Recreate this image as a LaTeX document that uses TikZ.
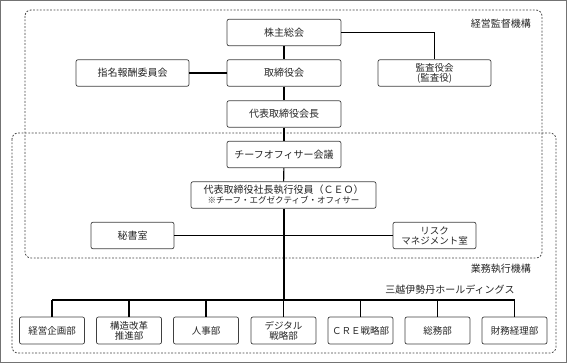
\documentclass[tikz,border=0pt]{standalone}
\usepackage{fontspec}
\newfontfamily\jp{Noto Sans CJK JP}
\begin{document}
\begin{tikzpicture}[x=1pt,y=-1pt,
  box/.style={draw=black!75,line width=0.7pt,rounded corners=2pt,fill=white,
    minimum height=26.5pt,inner sep=0pt,align=center,
    font=\jp\fontsize{10}{11.5}\selectfont,text=black!85},
  conn/.style={line width=1.1pt,black},
  region/.style={draw=black!75,line width=0.8pt,rounded corners=6pt,dash pattern=on 1.8pt off 1.6pt},
  lbl/.style={font=\jp\fontsize{10}{11.5}\selectfont,text=black!85,inner sep=0pt}]
\useasboundingbox (0,0) rectangle (567,363);
\draw[black!55,line width=1pt] (0.5,0.5) rectangle (566.5,362.5);
% regions
\draw[region] (25,10) rectangle (542,258);
\draw[region] (12,133) rectangle (556,353);
\node[lbl,anchor=east] (lab1) at (531,24) {経営監督機構};
\node[lbl,anchor=east] (lab2) at (531,269) {業務執行機構};
\node[lbl] (lab3) at (450,290) {三越伊勢丹ホールディングス};
% nodes
\node[box,minimum width=114pt] (kabu) at (284,32.5) {株主総会};
\node[box,minimum width=114pt] (tori) at (284,73) {取締役会};
\node[box,minimum width=114pt] (kaicho) at (284,114) {代表取締役会長};
\node[box,minimum width=114pt] (chief) at (284,154.5) {チーフオフィサー会議};
\node[box,minimum width=113pt] (shimei) at (132.5,73) {指名報酬委員会};
\node[box,minimum width=113pt,font=\jp\fontsize{9.5}{10}\selectfont] (kansa) at (434.5,73) {監査役会\\(監査役)};
\node[box,minimum width=185pt] (ceo) at (283.5,195) {代表取締役社長執行役員（ＣＥＯ）\\[-1.5pt]{\fontsize{8.5}{9}\selectfont ※チーフ・エグゼクティブ・オフィサー}};
\node[box,minimum width=83pt] (hisho) at (132.5,235.5) {秘書室};
\node[box,minimum width=83pt,font=\jp\fontsize{9.5}{10}\selectfont] (risk) at (434.5,235.5) {リスク\\マネジメント室};
\foreach \n/\x/\t in {d1/52/経営企画部, d2/129/{構造改革\\推進部}, d3/206/人事部, d4/283.5/{デジタル\\戦略部}, d5/360.5/ＣＲＥ戦略部, d6/437.5/総務部, d7/514.5/財務経理部}
  \node[box,minimum width=65pt,minimum height=27pt,font=\jp\fontsize{9.5}{10}\selectfont] (\n) at (\x,330.5) {\t};
% connectors
\coordinate (jn) at (284,300);
\coordinate (bl) at (52,300);
\coordinate (br) at (514.5,300);
\draw[conn] (kabu) -- (tori);
\draw[conn] (tori) -- (kaicho);
\draw[conn] (kaicho) -- (chief);
\draw[conn] (chief) -- (ceo);
\draw[conn] (ceo.south -| jn) -- (jn);
\draw[conn] (shimei) -- (tori);
\draw[conn] (kabu.east) -| (kansa.north);
\draw[conn] (hisho) -- (risk);
\draw[conn] (bl) -- (br);
\foreach \n in {d1,d2,d3,d4,d5,d6,d7}
  \draw[conn] (\n.north) -- (\n.north |- jn);
\end{tikzpicture}
\end{document}
